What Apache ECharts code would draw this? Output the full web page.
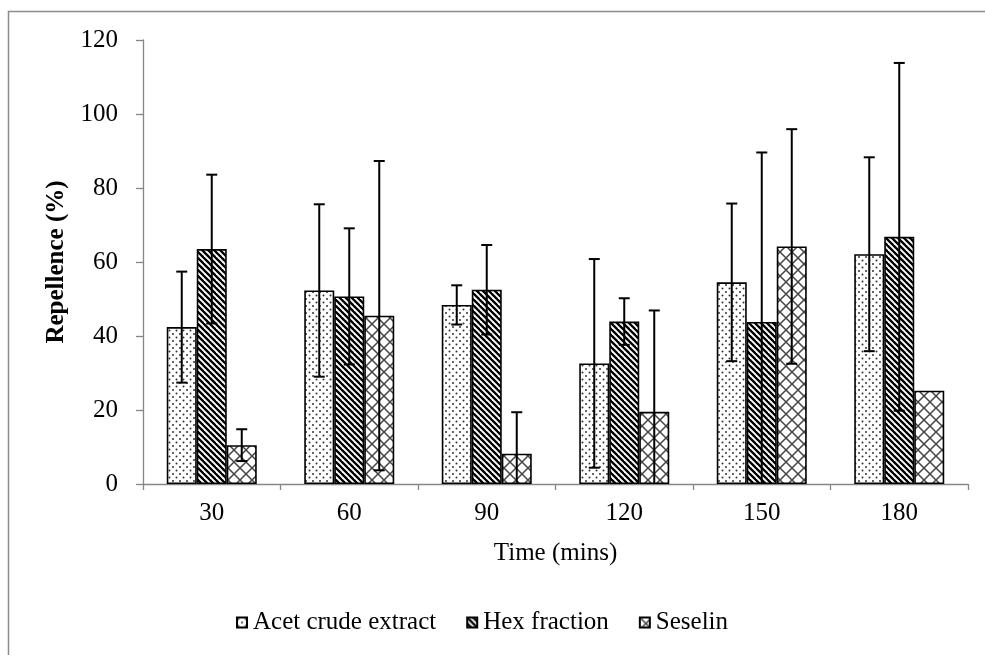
<!DOCTYPE html>
<html>
<head>
<meta charset="utf-8">
<title>Repellence over time</title>
<script src="https://cdn.jsdelivr.net/npm/echarts@6/dist/echarts.min.js"></script>
<style>
  html, body { margin: 0; padding: 0; background: #fff; }
  #chart { width: 985px; height: 655px; }
</style>
</head>
<body>
<div id="chart"></div>
<script>
// Time points (minutes)
const times = ['30', '60', '90', '120', '150', '180'];

// Mean repellence (%) and error (± SD) for each treatment
const acetCrude = [42.4, 52.3, 48.4, 32.6, 54.5, 62.1];
const acetCrudeErr = [15.0, 23.3, 5.3, 28.2, 21.3, 26.2];
const hexFraction = [63.5, 50.7, 52.5, 43.9, 43.8, 66.8];
const hexFractionErr = [20.1, 18.4, 12.1, 6.3, 45.8, 47.0];
const seselin = [10.5, 45.5, 8.2, 19.5, 64.2, 25.2];
const seselinErr = [4.3, 41.8, 11.2, 27.4, 31.7, 0];

const seriesNames = ['Acet crude extract', 'Hex fraction', 'Seselin'];
const yTicks = { min: 0, max: 120, interval: 20 };

const FONT = '"Liberation Serif", "Times New Roman", serif';
const FONT_SIZE = 25;
const AXIS_GREY = '#868686';
const BAR_W = 30;

// Fill patterns drawn on small canvases
function makeTile(size, draw) {
  const c = document.createElement('canvas');
  c.width = size; c.height = size;
  const ctx = c.getContext('2d');
  ctx.fillStyle = '#fff';
  ctx.fillRect(0, 0, size, size);
  draw(ctx, size);
  return { image: c, repeat: 'repeat' };
}

const dotPattern = makeTile(7, (ctx) => {
  ctx.fillStyle = '#333';
  [[1.5, 1.5], [5, 5]].forEach(([x, y]) => {
    ctx.beginPath();
    ctx.arc(x, y, 1.0, 0, Math.PI * 2);
    ctx.fill();
  });
});

const stripePattern = makeTile(6, (ctx, s) => {
  ctx.strokeStyle = '#000';
  ctx.lineWidth = 2.3;
  for (let k = -1; k <= 1; k++) {
    ctx.beginPath();
    ctx.moveTo(k * s - 1, -1);
    ctx.lineTo(k * s + s + 1, s + 1);
    ctx.stroke();
  }
});

const crossPattern = makeTile(12, (ctx, s) => {
  ctx.strokeStyle = '#444';
  ctx.lineWidth = 1.5;
  ctx.beginPath();
  ctx.moveTo(-1, -1); ctx.lineTo(s + 1, s + 1);
  ctx.moveTo(s + 1, -1); ctx.lineTo(-1, s + 1);
  ctx.stroke();
});

const fills = [dotPattern, stripePattern, crossPattern];
const values = [acetCrude, hexFraction, seselin];
const errors = [acetCrudeErr, hexFractionErr, seselinErr];

const barSeries = seriesNames.map((name, i) => ({
  name: name,
  type: 'bar',
  barWidth: BAR_W,
  barGap: '0%',
  data: values[i],
  itemStyle: { color: fills[i], borderColor: '#000', borderWidth: 1.6 },
  emphasis: { disabled: true },
  z: 2
}));

// Error bars: one item per (time, series)
const errData = [];
values.forEach((vals, s) => {
  vals.forEach((v, c) => {
    errData.push([c, v, errors[s][c], s]);
  });
});

const errSeries = {
  type: 'custom',
  name: 'error',
  z: 5,
  silent: true,
  data: errData,
  renderItem: function (params, api) {
    const c = api.value(0), v = api.value(1), e = api.value(2), s = api.value(3);
    if (!e) return null;
    const offset = (s - 1) * BAR_W;
    const x = api.coord([c, 0])[0] + offset;
    const hiVal = v + e;
    const loVal = v - e;
    const yHi = api.coord([c, hiVal])[1];
    const yLo = api.coord([c, Math.max(0, loVal)])[1];
    const cap = 5.5;
    const style = { stroke: '#000', lineWidth: 2 };
    const children = [
      { type: 'line', shape: { x1: x, y1: yHi, x2: x, y2: yLo }, style: style },
      { type: 'line', shape: { x1: x - cap, y1: yHi, x2: x + cap, y2: yHi }, style: style }
    ];
    if (loVal > 0) {
      children.push({ type: 'line', shape: { x1: x - cap, y1: yLo, x2: x + cap, y2: yLo }, style: style });
    }
    return { type: 'group', children: children };
  }
};

const chart = echarts.init(document.getElementById('chart'), null, { renderer: 'canvas' });

chart.setOption({
  animation: false,
  backgroundColor: '#fff',
  textStyle: { fontFamily: FONT },
  graphic: [{
    type: 'polyline',
    shape: { points: [[8.5, 700], [8.5, 11.5], [1000, 11.5]] },
    style: { stroke: '#8c8c8c', lineWidth: 1.5, fill: null },
    silent: true
  }],
  grid: { left: 143, right: 17, top: 40, bottom: 171, containLabel: false },
  legend: {
    data: seriesNames,
    left: 231,
    top: 605,
    itemWidth: 10,
    itemHeight: 10,
    itemGap: 30,
    icon: 'rect',
    selectedMode: false,
    textStyle: { fontFamily: FONT, fontSize: FONT_SIZE, color: '#000', padding: [0, 0, 0, 1] }
  },
  xAxis: {
    type: 'category',
    data: times,
    name: 'Time (mins)',
    nameLocation: 'middle',
    nameGap: 57,
    nameTextStyle: { fontFamily: FONT, fontSize: FONT_SIZE, color: '#000' },
    axisLine: { lineStyle: { color: AXIS_GREY, width: 1.3 } },
    axisTick: { show: true, length: 6, lineStyle: { color: AXIS_GREY, width: 1.3 } },
    axisLabel: { fontFamily: FONT, fontSize: FONT_SIZE, color: '#000', margin: 17 },
    splitLine: { show: false }
  },
  yAxis: {
    type: 'value',
    min: yTicks.min,
    max: yTicks.max,
    interval: yTicks.interval,
    name: 'Repellence (%)',
    nameLocation: 'middle',
    nameRotate: 90,
    nameGap: 74,
    nameTextStyle: { fontFamily: FONT, fontSize: FONT_SIZE, fontWeight: 'bold', color: '#000' },
    axisLine: { show: true, lineStyle: { color: AXIS_GREY, width: 1.3 } },
    axisTick: { show: true, length: 7, lineStyle: { color: AXIS_GREY, width: 1.3 } },
    axisLabel: { fontFamily: FONT, fontSize: FONT_SIZE, color: '#000', margin: 25 },
    splitLine: { show: false }
  },
  series: barSeries.concat([errSeries])
});
</script>
</body>
</html>
